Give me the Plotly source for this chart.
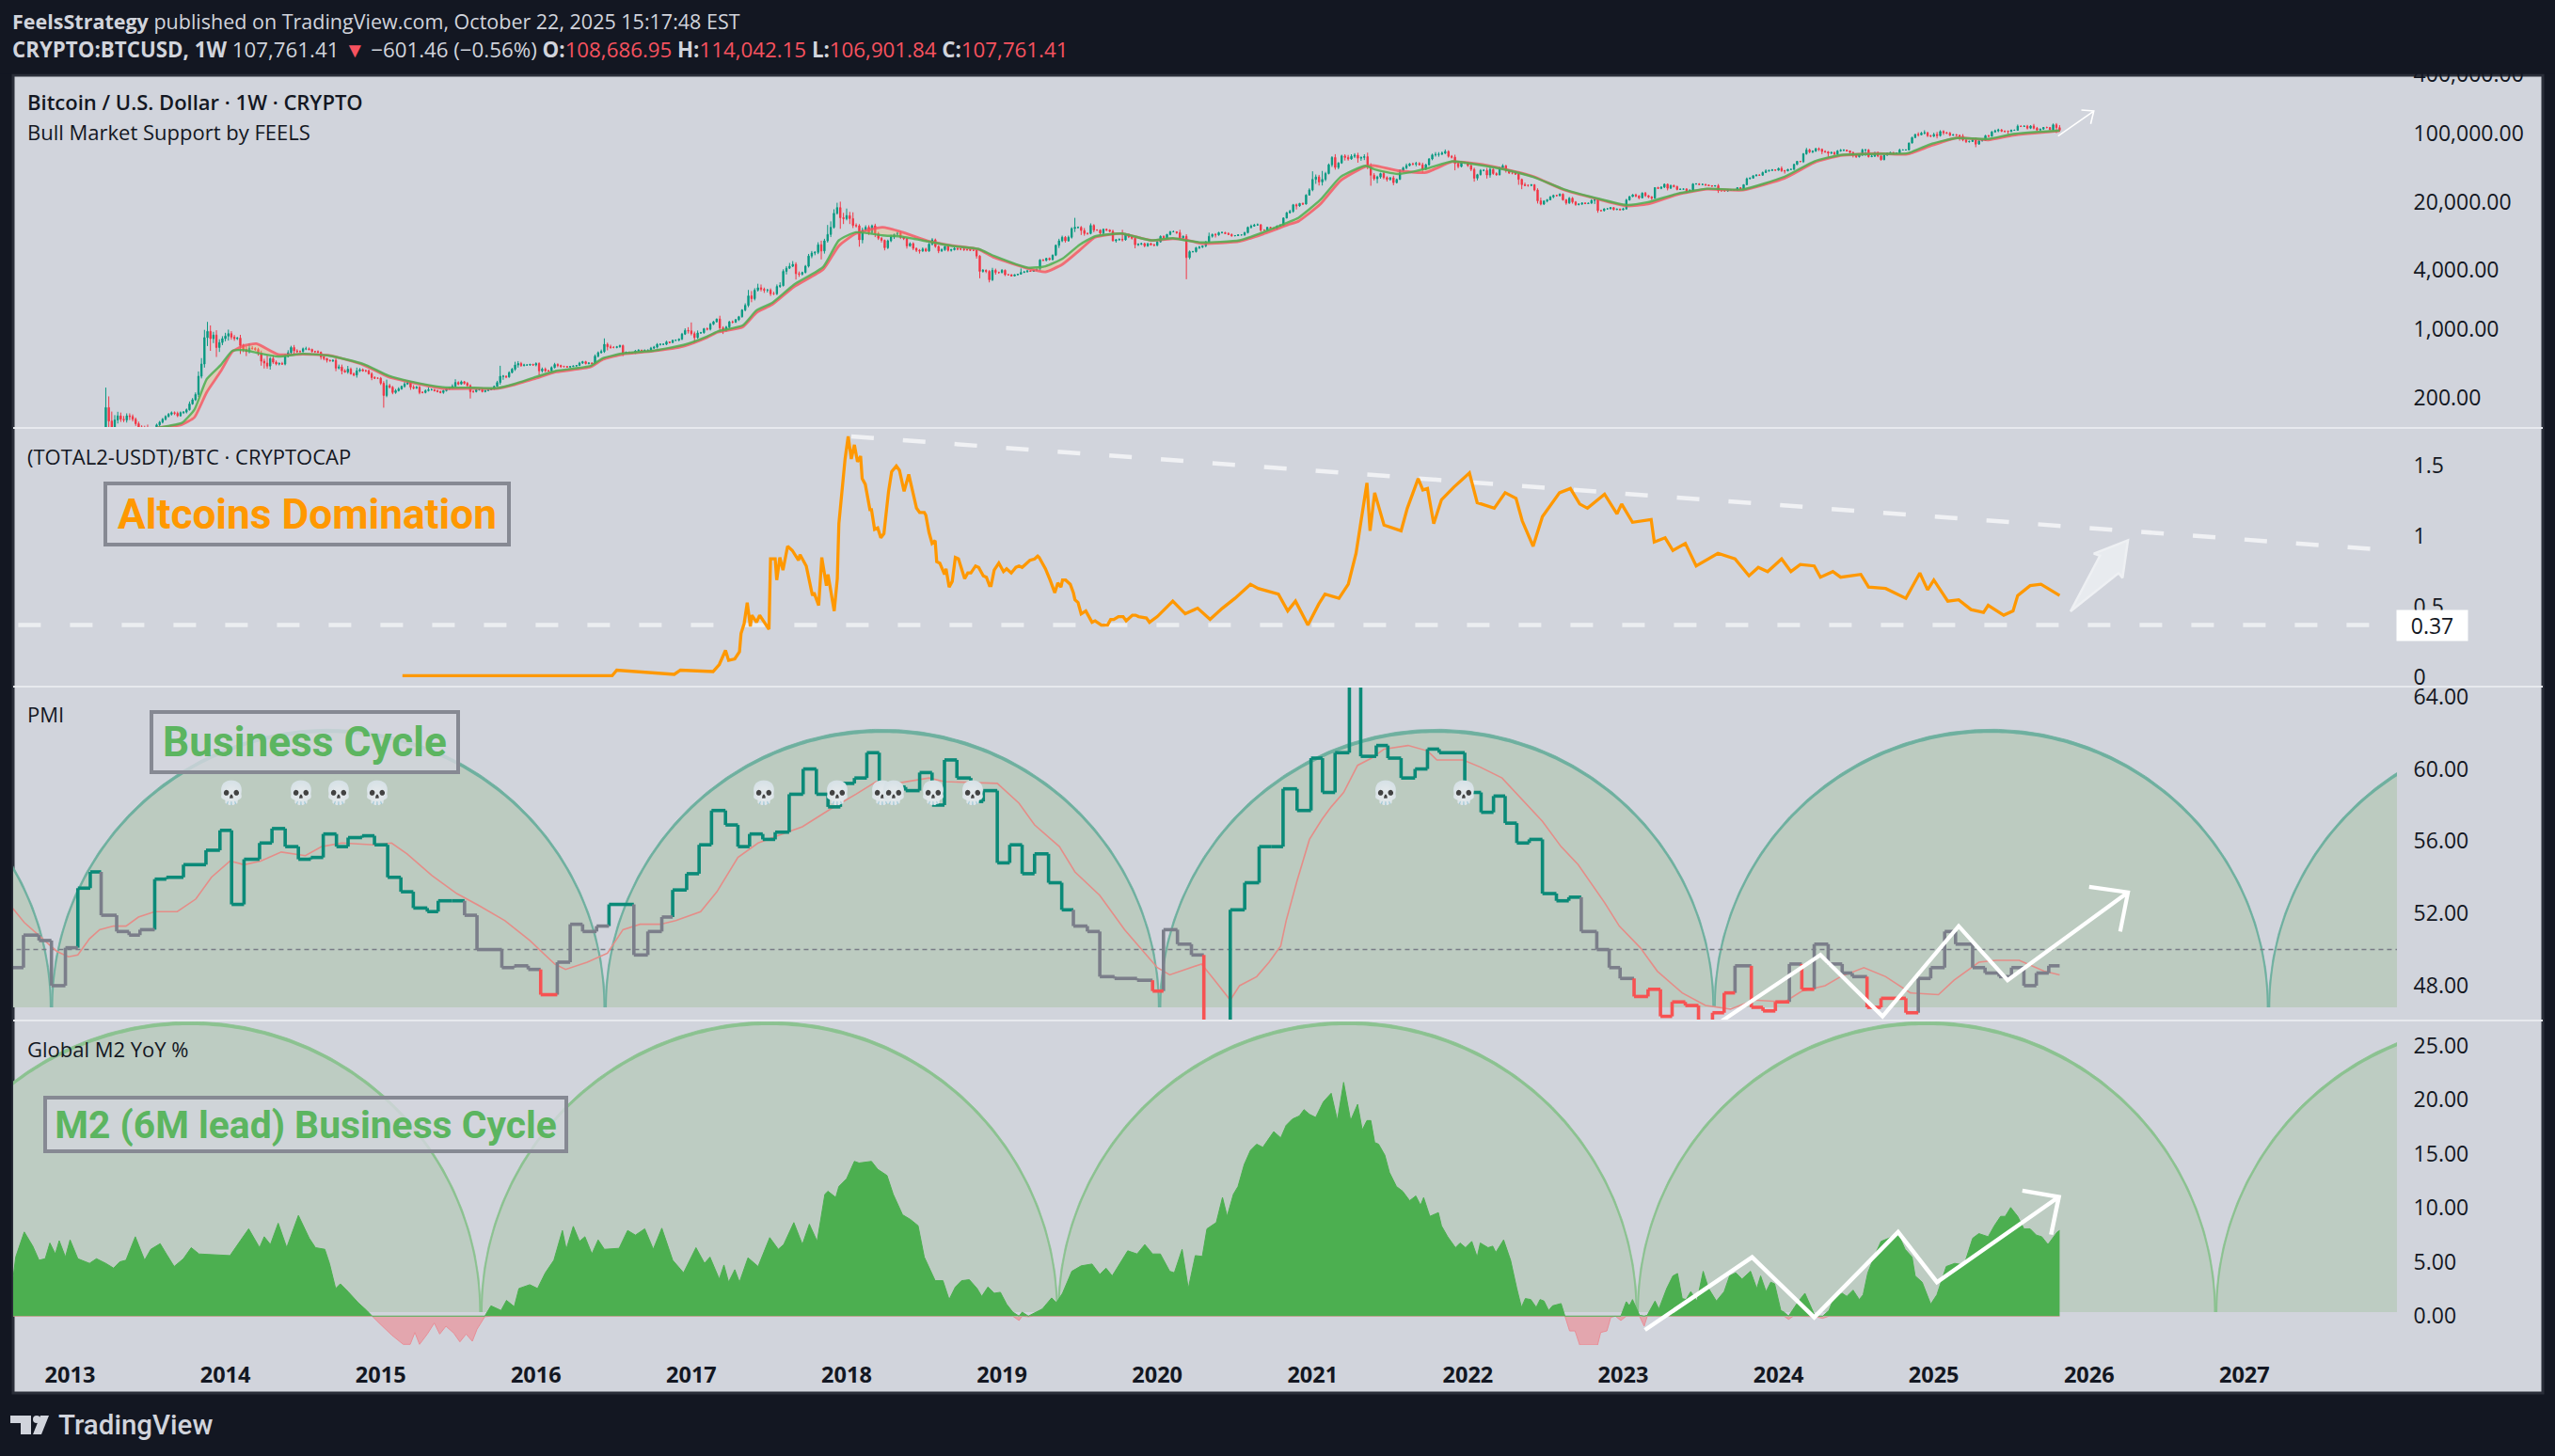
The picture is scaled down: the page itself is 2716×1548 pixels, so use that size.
import numpy as np
import plotly.graph_objects as go

W, H = 2716, 1548
BG, DARK, FRAME = "#d1d4dc", "#131722", "#2a2e39"
UP, DOWN = "#089981", "#f23645"

# ---------- BTC weekly closes, by year
close_2013 = [158,115,98,118,130,120,118,130,128,120,108,100,98,92,76,92,95,105,112,120,128,135,140,138,130,140,142,150,172,190,215,330,440,820,950,800,870,650,730,800]
close_2014 = [850,900,830,800,810,680,620,590,640,635,620,570,470,450,420,500,460,440,445,440,525,575,650,600,590,590,630,630,620,590,590,580,520,500,480,475,480,400,410,375,365,390,350,340,375,385,375,375,350,320,315,315]
close_2015 = [280,210,265,255,225,235,245,260,275,285,255,250,255,225,225,235,240,240,235,230,225,235,245,250,260,285,275,290,280,265,230,230,240,240,230,235,240,245,260,285,330,330,325,360,390,430,445,425,430,430,435,430]
close_2016 = [445,375,390,375,375,405,435,425,415,415,410,415,420,425,450,465,445,450,445,530,575,590,700,660,650,650,660,680,570,580,570,570,600,610,605,610,610,640,655,700,700,700,740,730,770,770,790,890,970,960]
close_2017 = [900,820,915,920,1010,1000,1125,1190,1270,1030,970,1050,1190,1180,1250,1340,1570,1750,2190,2050,2500,2650,2560,2500,2510,2300,2300,2730,2790,3900,4200,4400,4600,3700,3650,3800,4400,5600,6000,6100,7300,6300,8000,9300,11000,15300,17500,13800,13500]
close_2018 = [14500,13500,11500,11400,8200,10300,11000,9700,11400,9500,8500,8100,6800,8000,8800,9300,9600,8700,8400,7100,7500,6700,6400,6300,6600,6300,7400,8200,7000,6300,6500,7000,6400,6500,6700,6600,6600,6500,6500,6400,6400,5600,3900,4000,3900,3200,4000,3800,3800]
close_2019 = [4000,3600,3600,3500,3600,3650,3800,3850,3950,3900,4000,4100,5100,5050,5300,5150,5700,7200,8000,8700,8000,8700,10700,11000,11000,10200,9500,9500,11500,10300,10300,9600,10500,10300,10000,8000,8200,8300,8200,9300,8800,8500,7300,7400,7500,7100,7500,7300,7200]
close_2020 = [7800,8900,8600,9300,9900,9900,9700,8600,8900,5400,6200,6200,6800,6900,7100,7800,8900,9300,9200,9700,9700,9500,9300,9000,9050,9200,9200,9700,11000,11300,11600,11700,10300,10300,11000,10800,10700,11300,11500,13700,15500,16000,18700,18200,19300,19000,23500,26500]
close_2021 = [34000,36000,32000,34000,39000,48000,57000,45000,50000,59000,57000,55000,58500,60000,56000,57000,58000,46000,37500,34500,36000,39000,35500,34000,35300,31500,34000,42000,44500,47000,49000,48700,49500,48000,43000,48000,55000,60500,61000,61500,63000,65500,58500,57300,49500,46000,50500,50500]
close_2022 = [47000,43000,35000,38000,42000,42000,37700,43000,39000,37800,44500,46800,42000,39500,39500,38500,34000,30000,29500,29500,29900,26500,20500,19000,20400,21000,22500,23300,23200,24000,21000,19500,21800,20000,18800,19000,19500,19200,19400,20700,21000,16300,16300,17000,17000,17500,16700,16900,16600]
close_2023 = [16950,20900,22700,23600,23000,22000,24600,23200,22500,21800,28000,27500,28300,30300,27600,29400,28700,26800,27000,27100,25800,26300,30500,30500,30100,30200,29700,29300,29000,29300,26000,26000,25900,26500,26500,26300,28000,27100,30000,34500,35000,37000,37700,37500,40000,41500,42000,42500,42200]
close_2024 = [44000,41700,41500,43000,43000,48300,52000,51700,62000,68000,65000,66000,70000,69000,65500,64900,63000,64000,61500,66500,67500,67800,66500,64000,60000,58000,60000,68000,68000,58000,58700,64000,59000,54000,60000,63000,64000,62500,63000,68000,68000,68000,80000,91000,98000,97000,101000,102000,95000,94000]
close_2025 = [98000,95000,105000,102000,101000,96000,97000,96000,94000,86000,82500,83000,86000,78000,84000,85000,95000,94000,104000,106500,109000,105700,105500,105000,108000,108000,119000,118000,119000,113500,119500,113500,108500,111000,115500,115300,109500,123000,115000,107761]

# wick sizes in percent of the body's edge
up_2013 = [60,30,25,12,10,8,8,6,6,5,4,5,4,5,15,6,4,3,3,3,3,3,3,3,4,3,2,3,6,4,5,12,15,20,25,15,8,12,8,6]
up_2014 = [8,10,6,5,3,8,4,8,12,5,3,4,6,6,20,4,8,4,3,4,6,6,4,6,4,3,3,5,3,2,2,3,2,3,2,2,2,5,6,6,4,8,4,3,8,4,3,3,3,4,3,2]
up_2015 = [3,5,15,4,3,4,4,2,5,3,3,5,3,3,3,3,6,3,2,2,2,2,3,3,5,8,3,3,2,3,3,3,3,3,3,2,1,2,2,4,28,3,2,3,3,8,6,4,3,2,2,2]
up_2016 = [3,3,4,4,2,3,4,3,2,2,1,1,1,1,3,2,2,2,2,4,3,5,15,4,5,3,2,2,2,2,2,2,2,2,1,1,1,3,3,3,2,2,3,1,1,2,2,3,5,8]
up_2017 = [22,5,6,2,2,3,3,2,1,8,4,3,2,3,2,2,2,5,15,12,5,10,8,4,3,4,5,5,8,5,5,8,8,5,5,2,3,5,5,3,6,10,5,25,15,10,12,15,12]
up_2018 = [18,9,16,5,4,6,5,5,3,5,4,3,2,3,5,2,3,5,2,2,3,3,2,3,4,3,3,4,3,3,3,2,2,2,3,2,2,4,2,1,1,1,2,3,2,3,6,4,2]
up_2019 = [3,2,1,1,1,1,10,2,1,1,1,2,2,2,1,2,2,2,5,4,3,4,3,25,2,3,6,2,5,3,2,2,2,2,2,4,2,2,25,3,2,2,2,2,2,2,1,2,2]
up_2020 = [2,2,2,1,2,3,1,7,2,5,3,2,2,3,1,2,9,2,3,2,3,2,3,2,1,1,1,2,2,4,3,3,1,2,1,1,2,2,3,1,2,4,2,3,1,2,2,4]
up_2021 = [21,6,5,22,4,3,3,8,2,3,4,6,5,5,6,2,6,10,8,5,3,2,6,3,2,5,2,2,3,5,2,3,4,3,5,2,2,3,6,5,4,5,3,3,6,6,3,2]
up_2022 = [2,3,4,2,3,3,6,6,2,3,3,4,2,2,4,2,2,2,5,2,2,2,4,8,2,2,2,2,1,2,2,2,3,3,2,2,1,1,1,3,5,2,1,1,2,1,1,1,1]
up_2023 = [3,3,1,2,3,2,2,3,1,2,1,2,2,2,2,2,2,2,1,1,2,2,2,2,2,2,1,1,1,1,4,1,1,2,1,2,1,1,1,3,2,2,1,1,2,4,1,2,1]
up_2024 = [2,5,2,1,1,2,1,1,2,5,3,2,2,3,2,3,2,2,2,2,3,2,1,1,2,3,2,3,2,2,4,1,2,2,2,1,1,1,1,3,1,1,1,2,1,5,3,6,2,2]
up_2025 = [4,6,3,3,2,3,2,2,1,5,2,2,3,6,2,1,2,2,2,3,3,2,2,2,2,2,4,2,2,3,2,5,3,1,1,2,1,3,4,6]
dn_2013 = [20,25,30,8,8,6,5,6,8,5,5,8,6,8,8,4,3,4,3,3,3,2,3,4,3,2,3,3,2,2,3,6,5,8,18,25,10,20,10,6]
dn_2014 = [6,10,6,5,3,18,6,10,4,3,3,6,10,12,6,8,4,3,3,2,3,2,4,8,3,2,2,3,2,2,3,2,6,4,5,2,3,7,3,8,2,4,2,3,6,3,2,3,2,6,2,2]
dn_2015 = [4,25,4,3,4,3,2,2,3,2,6,3,2,4,2,2,2,2,2,2,2,3,2,2,2,2,3,2,3,2,15,3,2,2,2,2,1,1,2,1,5,8,3,2,2,4,6,3,2,2,2,2]
dn_2016 = [3,10,4,3,2,2,2,4,3,2,1,1,1,1,1,2,2,2,1,2,3,2,3,8,3,2,2,2,7,2,2,2,2,1,1,1,1,2,2,3,3,2,2,2,1,1,2,2,2,6]
dn_2017 = [4,12,3,2,2,3,3,2,2,7,8,3,3,3,2,3,2,3,4,8,4,3,5,6,5,5,3,3,3,2,7,2,2,13,6,3,2,3,5,5,4,18,6,4,6,3,3,23,12]
dn_2018 = [4,12,6,4,15,8,2,5,3,8,4,5,6,3,3,5,3,4,3,6,2,4,4,6,2,2,2,3,3,5,2,3,3,3,2,3,3,3,3,1,1,6,15,3,4,6,3,5,3]
dn_2019 = [2,3,2,1,1,2,1,1,1,1,1,1,3,1,2,2,2,2,6,3,4,2,3,8,3,10,5,3,2,5,1,3,5,2,2,1,4,2,4,2,3,3,8,3,2,3,2,2,2]
dn_2020 = [2,1,2,2,2,1,3,3,3,40,4,2,2,3,2,3,2,3,6,2,2,1,1,2,1,1,1,2,2,3,1,1,4,1,1,1,1,2,1,1,1,2,3,8,2,2,1,1]
dn_2021 = [3,10,8,8,4,2,5,5,4,2,7,4,2,4,10,6,6,6,22,4,10,4,4,5,3,6,2,1,3,3,2,3,5,2,8,2,2,3,4,5,2,2,3,3,15,4,2,3]
dn_2022 = [3,4,8,5,2,2,8,6,3,2,1,2,5,2,3,2,12,10,2,3,2,3,6,3,2,3,1,3,2,2,2,4,2,4,3,2,2,1,1,1,8,5,2,2,2,1,2,1,1]
dn_2023 = [1,1,1,1,3,3,1,3,3,4,1,1,2,2,5,1,2,2,1,1,5,1,2,1,1,1,1,1,1,1,5,1,1,2,1,1,1,1,1,1,1,1,1,1,1,1,2,1,1]
dn_2024 = [1,3,6,1,1,1,1,1,3,2,3,3,1,4,6,2,8,2,2,1,2,2,2,2,5,3,2,1,13,2,1,2,3,2,1,1,1,3,1,1,1,1,1,1,1,4,1,3,3,2]
dn_2025 = [2,6,2,5,2,2,1,1,10,3,3,2,1,7,1,1,1,2,1,2,3,2,3,6,1,1,1,1,1,3,2,3,2,1,1,2,1,3,12,3]

# ---------- Bull Market Support band
ma_x = [2013.56,2013.64,2013.72,2013.80,2013.88,2013.97,2014.045,2014.12,2014.2,2014.34,2014.5,2014.67,2014.89,2015.05,2015.2,2015.4,2015.6,2015.75,2015.86,2016.0,2016.13,2016.35,2016.43,2016.56,2016.75,2016.95,2017.1,2017.17,2017.33,2017.42,2017.52,2017.66,2017.85,2017.95,2018.06,2018.23,2018.36,2018.52,2018.68,2018.85,2018.95,2019.17,2019.28,2019.39,2019.5,2019.6,2019.77,2019.96,2020.1,2020.18,2020.29,2020.53,2020.69,2020.85,2020.91,2021.05,2021.18,2021.34,2021.4,2021.55,2021.73,2021.9,2022.06,2022.23,2022.42,2022.62,2022.82,2023.02,2023.16,2023.35,2023.54,2023.77,2024.04,2024.23,2024.4,2024.63,2024.83,2024.99,2025.15,2025.35,2025.51,2025.81]
ma_red = [98,101,106,125,227,370,590,680,710,550,555,540,430,325,285,247,247,247,270,315,365,410,490,555,595,670,820,930,1050,1480,1780,2700,4100,7100,9500,11000,9800,8000,7150,6550,5400,4150,3850,4600,6400,8700,9500,8100,8400,8200,7500,7900,9500,11800,12700,19000,33000,46000,47000,41700,40000,51500,49000,43500,36500,26500,21700,18200,19000,23800,27000,26400,35000,50500,59500,62500,61500,76000,90500,86000,96000,106500]
ma_green = [98,103,110,150,309,430,600,610,575,525,560,535,440,335,290,255,252,250,275,325,375,420,505,565,600,690,840,950,1090,1560,1860,2850,4350,8100,9800,9100,8800,7900,7100,6600,5600,4250,4400,5250,7300,8900,9500,8100,8500,8100,7700,8100,9900,12500,13800,21000,36000,46800,43000,38600,43700,52000,48200,43100,36000,26900,22000,18600,19900,24300,27300,26800,36300,52000,60500,62000,63000,79000,90000,88000,99000,107500]

# ---------- (TOTAL2-USDT)/BTC
alt_x = [2015.14,2015.40,2015.87,2016.49,2016.52,2016.89,2016.93,2017.14,2017.18,2017.22,2017.24,2017.28,2017.31,2017.32,2017.34,2017.36,2017.38,2017.39,2017.42,2017.44,2017.50,2017.51,2017.54,2017.55,2017.57,2017.59,2017.62,2017.65,2017.69,2017.70,2017.74,2017.78,2017.79,2017.82,2017.84,2017.87,2017.88,2017.92,2017.94,2017.95,2017.99,2018.01,2018.03,2018.05,2018.07,2018.09,2018.10,2018.12,2018.15,2018.16,2018.18,2018.20,2018.22,2018.24,2018.27,2018.29,2018.32,2018.34,2018.37,2018.40,2018.45,2018.47,2018.50,2018.51,2018.53,2018.55,2018.57,2018.58,2018.60,2018.63,2018.64,2018.66,2018.68,2018.70,2018.72,2018.74,2018.76,2018.78,2018.80,2018.83,2018.85,2018.88,2018.90,2018.92,2018.93,2018.95,2018.98,2019.01,2019.03,2019.06,2019.09,2019.11,2019.13,2019.18,2019.21,2019.23,2019.24,2019.26,2019.28,2019.31,2019.34,2019.36,2019.38,2019.39,2019.41,2019.44,2019.46,2019.47,2019.49,2019.51,2019.54,2019.56,2019.58,2019.60,2019.64,2019.68,2019.70,2019.72,2019.75,2019.78,2019.80,2019.84,2019.86,2019.88,2019.93,2019.95,2020.0,2020.10,2020.18,2020.26,2020.34,2020.42,2020.50,2020.60,2020.65,2020.78,2020.84,2020.89,2020.97,2021.04,2021.08,2021.17,2021.23,2021.28,2021.35,2021.37,2021.40,2021.46,2021.57,2021.61,2021.68,2021.71,2021.74,2021.78,2021.83,2021.91,2022.01,2022.06,2022.17,2022.24,2022.31,2022.35,2022.42,2022.48,2022.59,2022.66,2022.72,2022.77,2022.88,2022.96,2022.99,2023.06,2023.18,2023.20,2023.27,2023.32,2023.40,2023.47,2023.56,2023.61,2023.72,2023.81,2023.87,2023.93,2024.02,2024.08,2024.14,2024.23,2024.27,2024.35,2024.40,2024.53,2024.58,2024.69,2024.82,2024.91,2024.96,2025.00,2025.09,2025.16,2025.24,2025.32,2025.35,2025.45,2025.51,2025.54,2025.62,2025.69,2025.81]
alt_v = [.01,.01,.005,.01,.05,.02,.05,.04,.09,.19,.12,.13,.18,.31,.38,.53,.36,.44,.39,.44,.34,.84,.84,.69,.85,.76,.93,.90,.83,.87,.79,.58,.60,.51,.85,.65,.73,.47,.70,1.09,1.55,1.71,1.55,1.65,1.53,1.57,1.41,1.37,1.19,1.19,1.05,1.06,.99,1.02,1.32,1.46,1.50,1.47,1.32,1.44,1.20,1.17,1.17,1.15,1.03,.95,.97,.82,.81,.73,.77,.64,.68,.85,.84,.76,.70,.74,.74,.79,.78,.72,.71,.65,.65,.76,.81,.75,.77,.74,.78,.79,.78,.83,.84,.86,.85,.81,.77,.69,.60,.67,.64,.69,.69,.66,.60,.55,.53,.45,.47,.43,.39,.40,.37,.37,.41,.41,.43,.43,.40,.44,.44,.43,.42,.39,.43,.54,.45,.49,.41,.49,.56,.66,.63,.59,.47,.54,.37,.52,.59,.56,.66,.88,1.38,1.04,1.31,1.08,1.04,1.20,1.41,1.33,1.34,1.09,1.26,1.35,1.45,1.24,1.20,1.31,1.27,1.11,.93,1.14,1.31,1.34,1.23,1.20,1.30,1.16,1.23,1.10,1.12,.96,.99,.90,.95,.79,.85,.88,.84,.72,.78,.75,.84,.75,.80,.79,.71,.75,.71,.73,.64,.63,.56,.74,.62,.69,.54,.55,.48,.46,.51,.44,.47,.58,.65,.66,.58]
alt_trend_x = [2018.03,2027.84]
alt_trend_v = [1.71,.909]
alt_level = 0.37
alt_arrow_x = [2025.88,2026.07,2026.03,2026.25,2026.215,2026.19,2025.88]
alt_arrow_v = [.467,.863,.877,.972,.705,.74,.467]

# ---------- PMI steps
pmi_x = [2012.63,2012.70,2012.80,2012.88,2012.97,2013.05,2013.13,2013.20,2013.30,2013.38,2013.45,2013.545,2013.62,2013.73,2013.875,2013.965,2014.04,2014.12,2014.22,2014.30,2014.385,2014.47,2014.55,2014.63,2014.715,2014.79,2014.88,2014.96,2015.045,2015.13,2015.21,2015.30,2015.37,2015.46,2015.54,2015.62,2015.78,2015.86,2015.95,2016.03,2016.137,2016.22,2016.30,2016.39,2016.47,2016.63,2016.72,2016.81,2016.88,2016.97,2017.05,2017.13,2017.22,2017.30,2017.375,2017.46,2017.54,2017.63,2017.72,2017.805,2017.88,2017.96,2018.05,2018.13,2018.21,2018.30,2018.38,2018.47,2018.55,2018.63,2018.71,2018.80,2018.88,2018.97,2019.05,2019.13,2019.21,2019.30,2019.385,2019.46,2019.55,2019.63,2019.725,2019.87,2019.97,2020.04,2020.13,2020.22,2020.30,2020.38,2020.47,2020.563,2020.656,2020.733,2020.81,2020.90,2020.99,2021.064,2021.145,2021.237,2021.31,2021.41,2021.485,2021.57,2021.66,2021.74,2021.815,2021.98,2022.085,2022.165,2022.24,2022.315,2022.395,2022.48,2022.57,2022.65,2022.73,2022.83,2022.91,2022.98,2023.07,2023.16,2023.24,2023.315,2023.40,2023.485,2023.575,2023.65,2023.72,2023.825,2023.90,2023.98,2024.07,2024.15,2024.23,2024.32,2024.41,2024.475,2024.57,2024.66,2024.82,2024.90,2024.98,2025.07,2025.14,2025.25,2025.33,2025.42,2025.50,2025.58,2025.66,2025.74,2025.81]
pmi_v = [49.0,50.8,50.5,48.0,50.1,53.4,54.3,51.9,51.0,50.8,51.1,53.9,54.0,54.7,55.5,56.6,52.5,55.0,55.9,56.7,55.7,55.0,55.1,56.4,55.7,56.2,56.3,55.8,54.0,53.2,52.3,52.1,52.7,52.7,51.9,50.0,49.0,49.1,48.9,47.5,49.3,51.4,51.0,51.3,52.5,49.7,51.0,51.8,53.3,54.2,55.8,57.7,56.9,55.7,56.4,56.1,56.5,58.6,60.0,58.6,57.9,59.2,59.5,60.9,59.2,59.0,58.8,59.8,58.0,60.5,59.5,58.2,58.8,54.8,55.8,54.2,55.3,53.7,52.2,51.3,51.0,48.5,48.4,48.3,47.7,51.1,50.3,49.7,44.0,43.0,52.2,53.7,55.7,55.7,58.9,57.7,60.6,58.7,60.9,66.0,60.7,61.3,60.6,59.5,60.0,61.1,60.9,58.7,57.6,58.5,57.0,55.9,56.1,53.1,52.7,52.9,51.0,50.0,49.0,48.4,47.4,47.8,46.3,47.1,46.9,46.0,46.5,47.6,49.1,46.8,46.6,47.1,49.2,47.8,50.3,49.2,48.7,48.5,46.8,47.3,46.5,48.4,49.0,51.0,50.3,49.0,48.7,48.5,49.0,48.0,48.7,49.1,49.1]
pmi_ma_x = [2012.63,2012.705,2012.81,2012.915,2012.99,2013.05,2013.125,2013.19,2013.28,2013.36,2013.44,2013.545,2013.69,2013.81,2013.91,2014.03,2014.12,2014.227,2014.36,2014.515,2014.62,2014.75,2014.96,2015.07,2015.17,2015.33,2015.49,2015.64,2015.80,2015.96,2016.12,2016.19,2016.33,2016.46,2016.56,2016.67,2016.80,2016.90,2017.06,2017.165,2017.30,2017.43,2017.585,2017.715,2017.90,2018.06,2018.19,2018.32,2018.53,2018.63,2018.97,2019.11,2019.21,2019.37,2019.47,2019.63,2019.79,2020.0,2020.08,2020.285,2020.36,2020.47,2020.53,2020.64,2020.72,2020.795,2020.83,2020.90,2020.98,2021.06,2021.12,2021.20,2021.29,2021.38,2021.46,2021.615,2021.74,2021.80,2021.97,2022.08,2022.22,2022.33,2022.48,2022.60,2022.71,2022.88,2022.975,2023.11,2023.22,2023.38,2023.53,2023.69,2023.84,2024.04,2024.15,2024.30,2024.40,2024.55,2024.69,2024.85,2025.03,2025.13,2025.29,2025.40,2025.55,2025.71,2025.81]
pmi_ma_v = [52.3,51.5,50.7,49.9,49.6,49.7,50.6,51.1,51.3,51.3,51.8,52.1,52.1,52.8,54.0,54.9,54.7,54.9,55.4,55.2,55.7,55.9,55.8,55.9,55.3,54.1,53.1,52.4,51.6,50.5,49.2,48.9,49.3,49.8,51.1,51.4,51.4,51.6,52.1,53.2,55.1,55.9,56.4,56.8,57.8,58.6,59.3,59.2,59.5,59.3,59.2,58.1,56.9,55.7,54.3,53.0,51.1,49.0,48.6,49.2,48.4,47.2,48.0,48.5,49.3,50.2,51.6,53.8,56.1,57.2,57.9,58.7,60.2,60.6,61.1,61.3,61.0,60.5,60.5,60.1,59.5,58.5,57.1,55.7,54.7,52.6,51.3,50.1,48.8,47.6,46.9,46.7,47.2,47.1,47.7,48.0,48.5,49.0,48.5,47.6,47.5,48.3,49.3,49.4,49.4,48.8,48.6]
pmi_mid = 50
pmi_hi, pmi_lo = 52, 48
skull_x = [2014.04,2014.49,2014.73,2014.98,2017.47,2017.94,2018.23,2018.30,2018.555,2018.81,2021.47,2021.975]
skull_level = 58.57
pmi_path_x = [2023.61,2024.27,2024.67,2025.16,2025.475,2026.25]
pmi_path_v = [45.9,49.7,46.3,51.3,48.3,53.17]
pmi_head_x = [2026.0,2026.25,2026.2]
pmi_head_v = [53.47,53.17,51.0]

# ---------- Global M2 YoY %
m2_x = [2012.63,2012.65,2012.705,2012.76,2012.80,2012.84,2012.87,2012.905,2012.93,2012.97,2013.00,2013.05,2013.125,2013.17,2013.23,2013.28,2013.32,2013.36,2013.42,2013.48,2013.52,2013.58,2013.62,2013.67,2013.73,2013.78,2013.83,2013.92,2014.03,2014.10,2014.15,2014.22,2014.25,2014.29,2014.34,2014.395,2014.47,2014.54,2014.58,2014.64,2014.67,2014.71,2014.74,2014.79,2014.855,2014.91,2014.945,2014.99,2015.07,2015.145,2015.19,2015.22,2015.25,2015.30,2015.345,2015.38,2015.42,2015.47,2015.51,2015.55,2015.59,2015.62,2015.67,2015.71,2015.775,2015.81,2015.86,2015.89,2015.96,2016.01,2016.06,2016.115,2016.17,2016.195,2016.24,2016.28,2016.315,2016.36,2016.40,2016.44,2016.535,2016.59,2016.64,2016.70,2016.755,2016.81,2016.88,2016.95,2017.03,2017.085,2017.12,2017.18,2017.21,2017.24,2017.28,2017.31,2017.365,2017.43,2017.505,2017.56,2017.595,2017.66,2017.715,2017.76,2017.81,2017.86,2017.88,2017.93,2017.95,2018.0,2018.05,2018.08,2018.12,2018.16,2018.2,2018.26,2018.30,2018.36,2018.41,2018.46,2018.50,2018.57,2018.62,2018.66,2018.70,2018.74,2018.79,2018.84,2018.87,2018.91,2018.95,2018.99,2019.03,2019.07,2019.11,2019.13,2019.17,2019.20,2019.26,2019.32,2019.35,2019.39,2019.45,2019.51,2019.58,2019.63,2019.67,2019.71,2019.76,2019.81,2019.87,2019.92,2019.97,2020.02,2020.08,2020.11,2020.16,2020.2,2020.245,2020.29,2020.32,2020.38,2020.42,2020.45,2020.49,2020.52,2020.56,2020.60,2020.64,2020.68,2020.75,2020.795,2020.83,2020.87,2020.915,2020.945,2020.98,2021.02,2021.07,2021.12,2021.16,2021.2,2021.245,2021.29,2021.32,2021.35,2021.375,2021.4,2021.425,2021.465,2021.495,2021.54,2021.58,2021.625,2021.665,2021.695,2021.715,2021.755,2021.81,2021.83,2021.87,2021.92,2021.95,2021.985,2022.025,2022.06,2022.08,2022.13,2022.16,2022.18,2022.23,2022.275,2022.315,2022.345,2022.37,2022.405,2022.44,2022.465,2022.49,2022.52,2022.545,2022.6,2022.625,2022.655,2022.69,2022.72,2022.835,2022.855,2022.895,2022.92,2022.95,2022.985,2023.02,2023.04,2023.06,2023.105,2023.135,2023.155,2023.205,2023.23,2023.28,2023.32,2023.35,2023.38,2023.405,2023.435,2023.475,2023.515,2023.55,2023.6,2023.65,2023.685,2023.725,2023.765,2023.82,2023.86,2023.885,2023.92,2023.95,2023.975,2024.015,2024.035,2024.065,2024.095,2024.13,2024.17,2024.21,2024.235,2024.285,2024.325,2024.36,2024.41,2024.44,2024.48,2024.52,2024.545,2024.575,2024.615,2024.66,2024.71,2024.77,2024.815,2024.86,2024.88,2024.925,2024.98,2025.02,2025.08,2025.135,2025.195,2025.25,2025.29,2025.35,2025.39,2025.43,2025.46,2025.495,2025.54,2025.58,2025.62,2025.66,2025.695,2025.735,2025.795,2025.81]
m2_v = [3.13,5.45,7.77,6.46,5.16,5.30,6.75,5.74,6.96,5.45,7.04,5.30,4.87,5.30,4.87,4.43,5.01,5.16,7.33,5.16,6.17,6.69,5.74,4.58,5.30,6.32,5.74,5.68,5.59,7.04,8.06,6.32,7.33,6.61,8.58,6.32,9.30,7.19,6.32,6.17,4.87,2.55,2.98,2.26,1.24,.52,0,-.64,-1.74,-2.61,-2.61,-1.51,-2.61,-1.66,-.64,-1.66,-.93,-1.57,-2.38,-1.66,-2.32,-1.22,-.06,.95,.52,1.45,.87,2.55,2.90,2.55,4.0,5.16,7.91,6.17,8.29,6.90,7.33,5.74,7.04,6.17,6.26,7.91,7.48,8.06,6.17,8.12,5.16,4.0,6.32,4.87,5.45,3.42,4.72,3.13,4.29,3.13,5.39,4.58,7.25,6.17,6.61,8.64,6.61,8.49,6.90,11.25,11.53,10.96,11.97,12.69,14.29,14.14,14.2,14.29,13.56,12.98,11.25,9.36,8.93,8.35,5.45,3.27,3.27,1.53,2.69,3.27,3.36,2.55,1.82,2.69,2.11,2.2,1.1,.37,-.41,.37,-.06,.23,.66,1.68,1.24,2.11,4.14,4.64,4.81,3.85,4.43,3.71,4.87,6.03,5.74,6.61,5.74,5.74,4.14,4.0,6.17,2.55,5.59,5.51,8.06,8.64,10.96,9.22,11.25,11.97,14.0,15.3,15.88,15.59,17.04,16.46,17.62,18.2,18.49,19.07,18.64,18.35,19.8,20.58,18.06,21.59,18.06,19.56,17.19,18.06,18.06,16.03,15.88,14.87,13.27,11.97,11.53,10.66,11.1,10.23,10.95,9.21,9.56,8.34,7.33,6.32,6.75,6.32,6.9,5.45,6.75,6.32,6.46,5.88,7.04,5.16,2.55,.81,1.62,1.53,.81,1.53,1.39,.52,.95,1.16,0,-1.37,-1.37,-2.67,-2.67,-1.51,-1.37,-.12,0,-.41,1.33,.95,1.53,.08,-.93,.08,1.39,.66,2.55,3.71,3.94,1.62,1.53,2.26,1.39,4.14,2.55,1.39,2.26,3.71,4.0,3.42,4.14,2.55,3.71,2.26,3.13,2.98,.52,.37,-.3,.66,1.39,2.11,.81,-.06,-.2,.52,1.82,2.11,1.82,2.4,1.53,1.97,4.0,5.45,6.9,7.19,7.62,6.17,5.45,3.71,3.13,1.1,1.97,4.58,4.87,4.72,7.19,7.62,7.33,8.35,9.21,9.21,10.03,9.21,8.06,8.06,7.48,7.33,6.61,7.77,7.9]
m2_path_x = [2023.14,2023.83,2024.23,2024.77,2025.02,2025.805]
m2_path_v = [-1.28,5.45,-.12,7.77,3.13,11.01]
m2_head_x = [2025.57,2025.805,2025.755]
m2_head_v = [11.59,11.01,7.53]

# ---------- cycle arcs: cusps in time, base and crest in axis units
pmi_cusps = [2009.31,2012.88,2016.445,2020.015,2023.585,2027.155,2030.72]
pmi_base, pmi_crest = 46.8, 62.2
m2_cusps = [2011.9,2015.645,2019.36,2023.09,2026.815,2030.54]
m2_base, m2_crest = 0.37, 27.2

# ---------- axes
x_ticks = list(range(2013, 2028))
btc_ticks = [200,1000,4000,20000,100000,400000]
btc_labels = ["200.00","1,000.00","4,000.00","20,000.00","100,000.00","400,000.00"]
alt_ticks = [0,0.5,1,1.5]
alt_labels = ["0","0.5","1","1.5"]
pmi_ticks = [48,52,56,60,64]
pmi_labels = ["48.00","52.00","56.00","60.00","64.00"]
m2_ticks = [0,5,10,15,20,25]
m2_labels = ["0.00","5.00","10.00","15.00","20.00","25.00"]
btc_arrow_x = [2025.80,2026.03,2025.95,2026.03,2026.01]
btc_arrow_v = [94200,170000,174000,170000,125600]


def fx(p): return p / W
def fy(p): return 1 - p / H


fig = go.Figure()

# candles
cx, co, ch, cl, cc = [], [], [], [], []
years = [(2013.23,2014,close_2013,up_2013,dn_2013),(2014,2015,close_2014,up_2014,dn_2014),(2015,2016,close_2015,up_2015,dn_2015),(2016,2017,close_2016,up_2016,dn_2016),(2017,2018,close_2017,up_2017,dn_2017),(2018,2019,close_2018,up_2018,dn_2018),(2019,2020,close_2019,up_2019,dn_2019),(2020,2021,close_2020,up_2020,dn_2020),(2021,2022,close_2021,up_2021,dn_2021),(2022,2023,close_2022,up_2022,dn_2022),(2023,2024,close_2023,up_2023,dn_2023),(2024,2025,close_2024,up_2024,dn_2024),(2025,2025.81,close_2025,up_2025,dn_2025)]
prev = 98
for a, b, cs, ups, dns in years:
    xs = np.linspace(a, b, len(cs), endpoint=(b == 2025.81))
    us = np.resize(ups, len(cs)); ds = np.resize(dns, len(cs))
    for x, c, u, d in zip(xs, cs, us, ds):
        cx.append(float(x)); co.append(prev); cc.append(c)
        ch.append(max(prev, c) * (1 + u / 100)); cl.append(min(prev, c) * (1 - d / 100))
        prev = c
fig.add_trace(go.Candlestick(x=cx, open=co, high=ch, low=cl, close=cc, yaxis="y", xaxis="x", whiskerwidth=0,
                             increasing=dict(line=dict(color=UP, width=1), fillcolor=UP),
                             decreasing=dict(line=dict(color=DOWN, width=1), fillcolor=DOWN), hoverinfo="skip"))
fig.add_trace(go.Scatter(x=ma_x, y=ma_red, yaxis="y", mode="lines", line=dict(color="rgba(247,82,95,.8)", width=2.8, shape="spline", smoothing=.5), hoverinfo="skip"))
fig.add_trace(go.Scatter(x=ma_x, y=ma_green, yaxis="y", mode="lines", fill="tonexty", fillcolor="rgba(240,190,110,.33)", line=dict(color="rgba(76,175,80,.85)", width=2.4, shape="spline", smoothing=.5), hoverinfo="skip"))
fig.add_trace(go.Scatter(x=btc_arrow_x, y=btc_arrow_v, yaxis="y", mode="lines", line=dict(color="#ffffff", width=1.6), hoverinfo="skip"))

# altcoins
fig.add_trace(go.Scatter(x=[x_ticks[0] - 1, 2027.982], y=[alt_level, alt_level], yaxis="y2", mode="lines", line=dict(color="#eceef1", width=4.5, dash="24px,31px"), hoverinfo="skip"))
fig.add_trace(go.Scatter(x=alt_trend_x, y=alt_trend_v, yaxis="y2", mode="lines", line=dict(color="#f0f1f4", width=4.5, dash="24px,31px"), hoverinfo="skip"))
fig.add_trace(go.Scatter(x=alt_x, y=alt_v, yaxis="y2", mode="lines", line=dict(color="#ff9800", width=3.3), hoverinfo="skip"))
fig.add_trace(go.Scatter(x=alt_arrow_x, y=alt_arrow_v, yaxis="y2", mode="lines", fill="toself", fillcolor="rgba(236,238,242,.85)", line=dict(color="#eef0f3", width=2.5), hoverinfo="skip"))


def arcs(cusps, base, crest, inset_x=0.0, inset_y=0.0):
    ax, ay = [], []
    t = np.linspace(np.pi, 0, 241)
    for l, r in zip(cusps[:-1], cusps[1:]):
        ax += list((l + r) / 2 + ((r - l) / 2 - inset_x) * np.cos(t)) + [None]
        ay += list(base + (crest - base - inset_y) * np.sin(t)) + [None]
    return ax, ay


# PMI
ax, ay = arcs(pmi_cusps, pmi_base, pmi_crest)
fig.add_trace(go.Scatter(x=ax, y=ay, yaxis="y3", mode="lines", fill="toself", fillcolor="#6eb09f", line=dict(color="#6eb09f", width=0.8), hoverinfo="skip"))
ax, ay = arcs(pmi_cusps, pmi_base, pmi_crest, 0.011, 0.2)
fig.add_trace(go.Scatter(x=ax, y=ay, yaxis="y3", mode="none", fill="toself", fillcolor="#bccbc0", hoverinfo="skip"))
fig.add_trace(go.Scatter(x=[2012.6, 2027.982], y=[pmi_mid, pmi_mid], yaxis="y3", mode="lines", line=dict(color="#787b86", width=1.5, dash="5px,4px"), hoverinfo="skip"))
fig.add_trace(go.Scatter(x=pmi_ma_x, y=pmi_ma_v, yaxis="y3", mode="lines", line=dict(color="#e58d88", width=1.6), hoverinfo="skip"))
seg = {"#0b8a78": ([], []), "#7b7e8a": ([], []), "#f75252": ([], [])}


def pmi_color(v):
    return "#f75252" if v < pmi_lo else ("#7b7e8a" if v < pmi_hi else "#0b8a78")


for i in range(len(pmi_v) - 1):
    sx, sy = seg[pmi_color(pmi_v[i])]
    sx += [pmi_x[i], pmi_x[i + 1], None]; sy += [pmi_v[i], pmi_v[i], None]
    sx, sy = seg[pmi_color(pmi_v[i + 1])]
    sx += [pmi_x[i + 1], pmi_x[i + 1], None]; sy += [pmi_v[i], pmi_v[i + 1], None]
for col, (sx, sy) in seg.items():
    fig.add_trace(go.Scatter(x=sx, y=sy, yaxis="y3", mode="lines", line=dict(color=col, width=3.6), hoverinfo="skip"))
fig.add_trace(go.Scatter(x=skull_x, y=[skull_level] * len(skull_x), yaxis="y3", mode="text", text=["💀"] * len(skull_x), textfont=dict(size=24, color="#ffffff"), hoverinfo="skip"))
fig.add_trace(go.Scatter(x=pmi_path_x, y=pmi_path_v, yaxis="y3", mode="lines", line=dict(color="#ffffff", width=4.2), hoverinfo="skip"))
fig.add_trace(go.Scatter(x=pmi_head_x, y=pmi_head_v, yaxis="y3", mode="lines", line=dict(color="#ffffff", width=4.2), hoverinfo="skip"))

# M2
ax, ay = arcs(m2_cusps, m2_base, m2_crest)
fig.add_trace(go.Scatter(x=ax, y=ay, yaxis="y4", mode="lines", fill="toself", fillcolor="#8bc290", line=dict(color="#8bc290", width=0.8), hoverinfo="skip"))
ax, ay = arcs(m2_cusps, m2_base, m2_crest, 0.011, 0.33)
fig.add_trace(go.Scatter(x=ax, y=ay, yaxis="y4", mode="none", fill="toself", fillcolor="#bdccc2", hoverinfo="skip"))
m2 = np.array(m2_v)
fig.add_trace(go.Scatter(x=m2_x, y=np.minimum(m2, 0), yaxis="y4", mode="lines", fill="tozeroy", fillcolor="#e3a6ae", line=dict(color="#e88e97", width=1), hoverinfo="skip"))
fig.add_trace(go.Scatter(x=m2_x, y=np.maximum(m2, 0), yaxis="y4", mode="lines", fill="tozeroy", fillcolor="#4caf50", line=dict(color="#4caf50", width=1), hoverinfo="skip"))
fig.add_trace(go.Scatter(x=m2_path_x, y=m2_path_v, yaxis="y4", mode="lines", line=dict(color="#ffffff", width=4.5), hoverinfo="skip"))
fig.add_trace(go.Scatter(x=m2_head_x, y=m2_head_v, yaxis="y4", mode="lines", line=dict(color="#ffffff", width=4.5), hoverinfo="skip"))

FONT = "Open Sans"
TICK = dict(family=FONT, size=23, color="#131722")


def yax(dom, rng, ticks, labels, **kw):
    return dict(domain=[fy(dom[1]), fy(dom[0])], range=rng, anchor="x", side="right", automargin=False, tickmode="array", tickvals=ticks, ticktext=labels,
                showgrid=False, zeroline=False, showline=False, ticks="outside", ticklen=12, tickcolor="rgba(0,0,0,0)", tickfont=TICK, fixedrange=True, **kw)


def box(x0, y0, x1, y1, **kw):
    return dict(type="rect", xref="paper", yref="paper", x0=fx(x0), x1=fx(x1), y0=fy(y1), y1=fy(y0), **kw)


def sep(y):
    return dict(type="line", xref="paper", yref="paper", x0=fx(14), x1=fx(2703), y0=fy(y), y1=fy(y), line=dict(color="#e7e9ee", width=2), layer="above")


def poly(pts):
    return "M" + " L".join(f"{fx(a):.5f},{fy(b):.5f}" for a, b in pts) + " Z"


shapes = [
    box(14, 80, 2703, 1481, fillcolor=BG, line=dict(color=FRAME, width=3), layer="below"),
    box(0, 0, 2716, 78.5, fillcolor=DARK, line=dict(width=0), layer="above"),
    sep(455), sep(730), sep(1085),
    dict(type="path", xref="paper", yref="paper", path=poly([(11, 1505), (33, 1505), (33, 1525), (22, 1525), (22, 1513), (11, 1513)]), fillcolor="#d1d4dc", line=dict(width=0)),
    dict(type="path", xref="paper", yref="paper", path=poly([(43, 1505), (52, 1505), (44, 1525), (35, 1525)]), fillcolor="#d1d4dc", line=dict(width=0)),
    dict(type="circle", xref="paper", yref="paper", x0=fx(35), x1=fx(43), y0=fy(1513), y1=fy(1505), fillcolor="#d1d4dc", line=dict(width=0)),
]


def note(text, x, y, size=22, color="#131722", family=FONT, **kw):
    return dict(text=text, xref="paper", yref="paper", x=fx(x), y=fy(y), xanchor="left", yanchor="middle", showarrow=False, font=dict(family=family, size=size, color=color), **kw)


def framed(text, x0, y0, x1, y1, size, color):
    return dict(text=text, xref="paper", yref="paper", x=fx((x0 + x1) / 2), y=fy((y0 + y1) / 2), xanchor="center", yanchor="middle", showarrow=False,
                width=x1 - x0 - 4, height=y1 - y0 - 4, borderwidth=4, borderpad=0, bordercolor="#868993", bgcolor="rgba(211,213,221,.82)", align="center", valign="middle",
                font=dict(family="Roboto", size=size, color=color, weight=700))


R = '<span style="color:#f7525f">%s</span>'
line2 = ("<b>CRYPTO:BTCUSD, 1W</b> 107,761.41 " + R % "▼" + " −601.46 (−0.56%) <b>O:</b>" + R % "108,686.95" + " <b>H:</b>" + R % "114,042.15" + " <b>L:</b>" + R % "106,901.84" + " <b>C:</b>" + R % "107,761.41")
annotations = [
    note("<b>FeelsStrategy</b> published on TradingView.com, October 22, 2025 15:17:48 EST", 11, 23, 21.5, "#d1d4dc"),
    note(line2, 11, 53, 22.3, "#d1d4dc"),
    note("Bitcoin / U.S. Dollar · 1W · CRYPTO", 27, 108, 22),
    note("Bull Market Support by FEELS", 27, 140, 22),
    note("(TOTAL2-USDT)/BTC · CRYPTOCAP", 27, 485, 22),
    note("PMI", 27, 759, 22),
    note("Global M2 YoY %", 27, 1115, 22),
    framed("Altcoins Domination", 112, 514, 541, 579, 44.2, "#ff9800"),
    framed("Business Cycle", 161, 757, 487, 821, 44.2, "#5cb560"),
    framed("M2 (6M lead) Business Cycle", 48, 1167, 602, 1224, 40.8, "#5cb560"),
    dict(text="0.37", xref="paper", yref="y2", x=fx(2585), y=alt_level, xanchor="center", yanchor="middle", showarrow=False, width=73, height=30, bgcolor="#ffffff", font=dict(family=FONT, size=23, color="#131722")),
    note("TradingView", 60, 1515, 29.5, "#d1d4dc", "Roboto"),
]
annotations[2]["font"]["weight"] = 600
annotations[-1]["font"]["weight"] = 500

fig.update_layout(
    width=W, height=H, margin=dict(l=0, r=0, t=0, b=0), autosize=False,
    paper_bgcolor=DARK, plot_bgcolor="rgba(0,0,0,0)", showlegend=False, boxgap=0.4, boxmode="overlay", hovermode=False,
    xaxis=dict(domain=[fx(14), fx(2548)], range=[2012.6336, 2027.982], anchor="y4", automargin=False, tickmode="array", tickvals=x_ticks, ticktext=[str(v) for v in x_ticks],
               showgrid=False, zeroline=False, showline=False, ticks="outside", ticklen=11, tickcolor="rgba(0,0,0,0)",
               tickfont=dict(family=FONT, size=23.5, color="#131722", weight=700), rangeslider=dict(visible=False), fixedrange=True),
    yaxis=yax((79, 455), [1.99, 5.6058], btc_ticks, btc_labels, type="log"),
    yaxis2=yax((455, 730), [-0.067, 1.77], alt_ticks, alt_labels),
    yaxis3=yax((730, 1085), [46.07, 64.56], pmi_ticks, pmi_labels),
    yaxis4=yax((1085, 1430), [-2.67, 27.3], m2_ticks, m2_labels),
    shapes=shapes, annotations=annotations,
)
fig.write_html("out.html", config=dict(displayModeBar=False), post_script=f"document.body.style.margin='0';document.body.style.background='{DARK}';document.documentElement.style.background='{DARK}';")
